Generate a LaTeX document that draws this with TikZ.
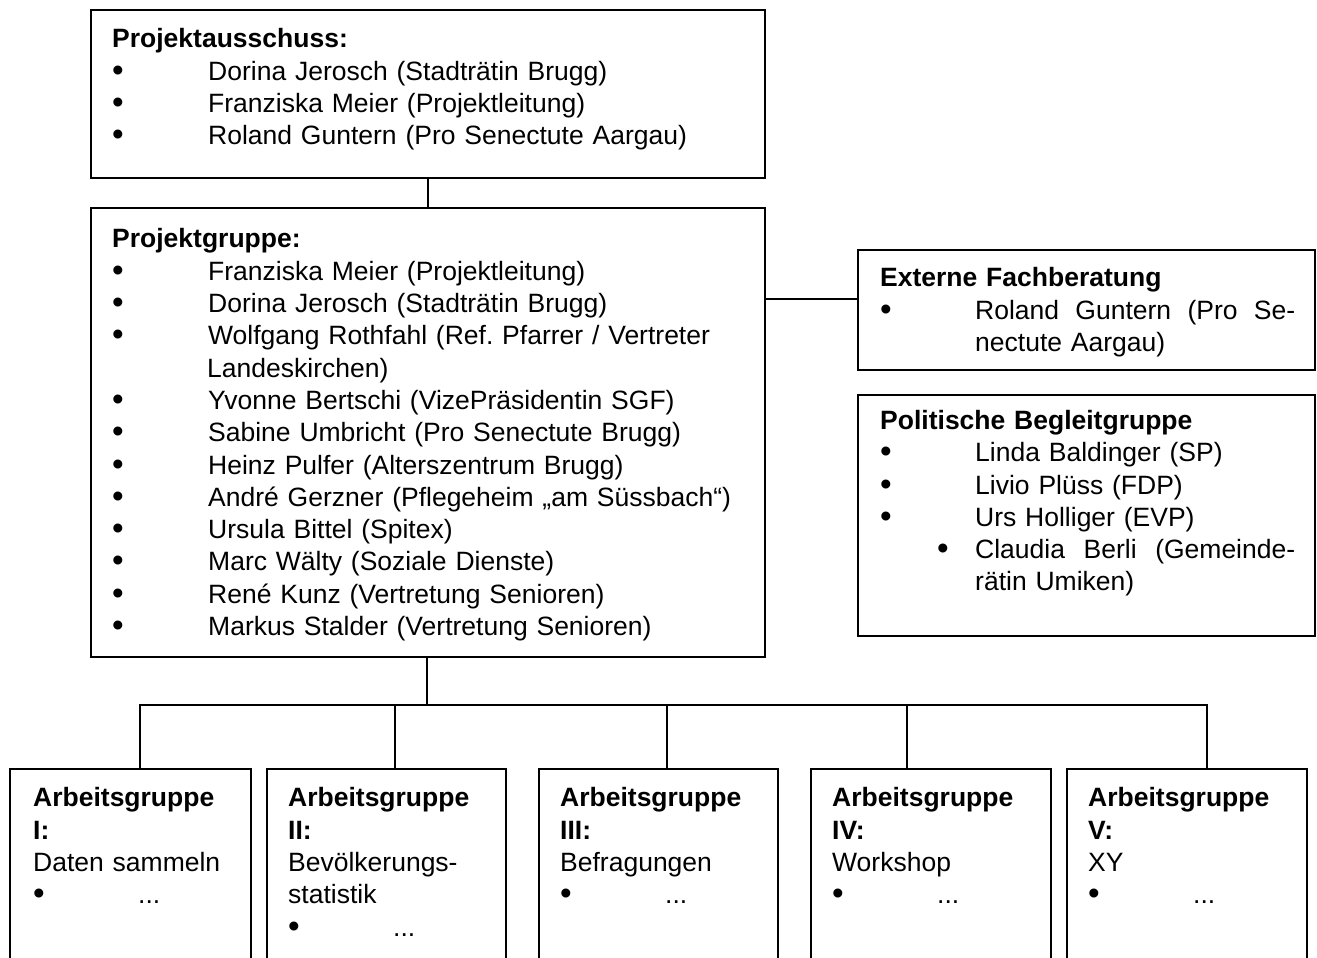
\documentclass[tikz,border=0pt]{standalone}
\usepackage{fontspec}
\setmainfont{Liberation Sans}
\usetikzlibrary{positioning,calc}

\newcommand{\bul}[1][96pt]{\makebox[#1][l]{\raisebox{-1pt}{\scalebox{1.25}{\textbullet}}}}
\frenchspacing

\begin{document}
\begin{tikzpicture}[x=1pt,y=-1pt,
  every node/.style={font=\fontsize{26.5}{32.3}\selectfont},
  grp/.style={draw,line width=2.2pt,rectangle,anchor=north west,inner sep=0pt,outer sep=0pt},
  txt/.style={anchor=north west,inner sep=0pt,align=left,text width=#1},
  lnk/.style={line width=2pt}
]
\clip (0,0) rectangle (1317,958);
% upper part
\node[grp,minimum width=674,minimum height=168] (ausschuss) at (91,10) {};
\node[txt=640] (ausschuss-t) at ([shift={(21,18.5)}]ausschuss.north west)
  {\textbf{Projektausschuss:}\\
   \bul Dorina Jerosch (Stadträtin Brugg)\\
   \bul Franziska Meier (Projektleitung)\\
   \bul Roland Guntern (Pro Senectute Aargau)};
\node[grp,minimum width=674,minimum height=449] (gruppe) at (91,208) {};
\node[txt=640] (gruppe-t) at ([shift={(21,20.5)}]gruppe.north west)
  {\textbf{Projektgruppe:}\\
   \bul Franziska Meier (Projektleitung)\\
   \bul Dorina Jerosch (Stadträtin Brugg)\\
   \bul Wolfgang Rothfahl (Ref. Pfarrer / Vertreter\\
   \hspace*{95pt}Landeskirchen)\\
   \bul Yvonne Bertschi (VizePräsidentin SGF)\\
   \bul Sabine Umbricht (Pro Senectute Brugg)\\
   \bul Heinz Pulfer (Alterszentrum Brugg)\\
   \bul André Gerzner (Pflegeheim „am Süssbach“)\\
   \bul Ursula Bittel (Spitex)\\
   \bul Marc Wälty (Soziale Dienste)\\
   \bul René Kunz (Vertretung Senioren)\\
   \bul Markus Stalder (Vertretung Senioren)};
% side boxes
\node[grp,minimum width=457,minimum height=120] (extern) at (858,250) {};
\node[txt=420] (extern-t) at ([shift={(22,17.5)}]extern.north west)
  {\textbf{Externe Fachberatung}\\
   \bul[95pt]\makebox[320pt][s]{Roland\hfill Guntern\hfill (Pro\hfill Se-}\\
   \hspace*{95pt}nectute Aargau)};
\node[grp,minimum width=457,minimum height=241] (politik) at (858,395) {};
\node[txt=420] (politik-t) at ([shift={(22,15)}]politik.north west)
  {\textbf{Politische Begleitgruppe}\\
   \bul[95pt]Linda Baldinger (SP)\\
   \bul[95pt]Livio Plüss (FDP)\\
   \bul[95pt]Urs Holliger (EVP)\\
   \hspace*{57pt}\bul[38pt]\makebox[320pt][s]{Claudia\hfill Berli\hfill (Gemeinde-}\\
   \hspace*{95pt}rätin Umiken)};
% working groups
\node[grp,minimum width=241,minimum height=221] (ag1) at (10,769) {};
\node[grp,minimum width=239,minimum height=221] (ag2) at (267,769) {};
\node[grp,minimum width=239,minimum height=221] (ag3) at (539,769) {};
\node[grp,minimum width=240,minimum height=221] (ag4) at (811,769) {};
\node[grp,minimum width=240,minimum height=221] (ag5) at (1067,769) {};
\node[txt=215] (ag1-t) at ([shift={(23,18.5)}]ag1.north west)
  {\textbf{Arbeitsgruppe}\\ \textbf{I:}\\ Daten sammeln\\ \bul[105pt]...};
\node[txt=215] (ag2-t) at ([shift={(21,18.5)}]ag2.north west)
  {\textbf{Arbeitsgruppe}\\ \textbf{II:}\\ Bevölkerungs-\\ statistik\\ \bul[105pt]...};
\node[txt=215] (ag3-t) at ([shift={(21,18.5)}]ag3.north west)
  {\textbf{Arbeitsgruppe}\\ \textbf{III:}\\ Befragungen\\ \bul[105pt]...};
\node[txt=215] (ag4-t) at ([shift={(21,18.5)}]ag4.north west)
  {\textbf{Arbeitsgruppe}\\ \textbf{IV:}\\ Workshop\\ \bul[105pt]...};
\node[txt=215] (ag5-t) at ([shift={(21,18.5)}]ag5.north west)
  {\textbf{Arbeitsgruppe}\\ \textbf{V:}\\ XY\\ \bul[105pt]...};
% connectors
\coordinate (bus) at (427,705);
\draw[lnk] (ausschuss.south) -- (gruppe.north);
\draw[lnk] ([yshift=11.5pt]extern.west) -- ([yshift=11.5pt]extern.west -| gruppe.east);
\draw[lnk] (gruppe.south -| bus) -- (bus);
\draw[lnk] ([xshift=9.5pt]ag1.north) |- (bus);
\draw[lnk] ([xshift=8.5pt]ag2.north) |- (bus);
\draw[lnk] ([xshift=8.5pt]ag3.north) |- (bus);
\draw[lnk] ([xshift=-24pt]ag4.north) |- (bus);
\draw[lnk] ([xshift=20pt]ag5.north) |- (bus);
\end{tikzpicture}
\end{document}
